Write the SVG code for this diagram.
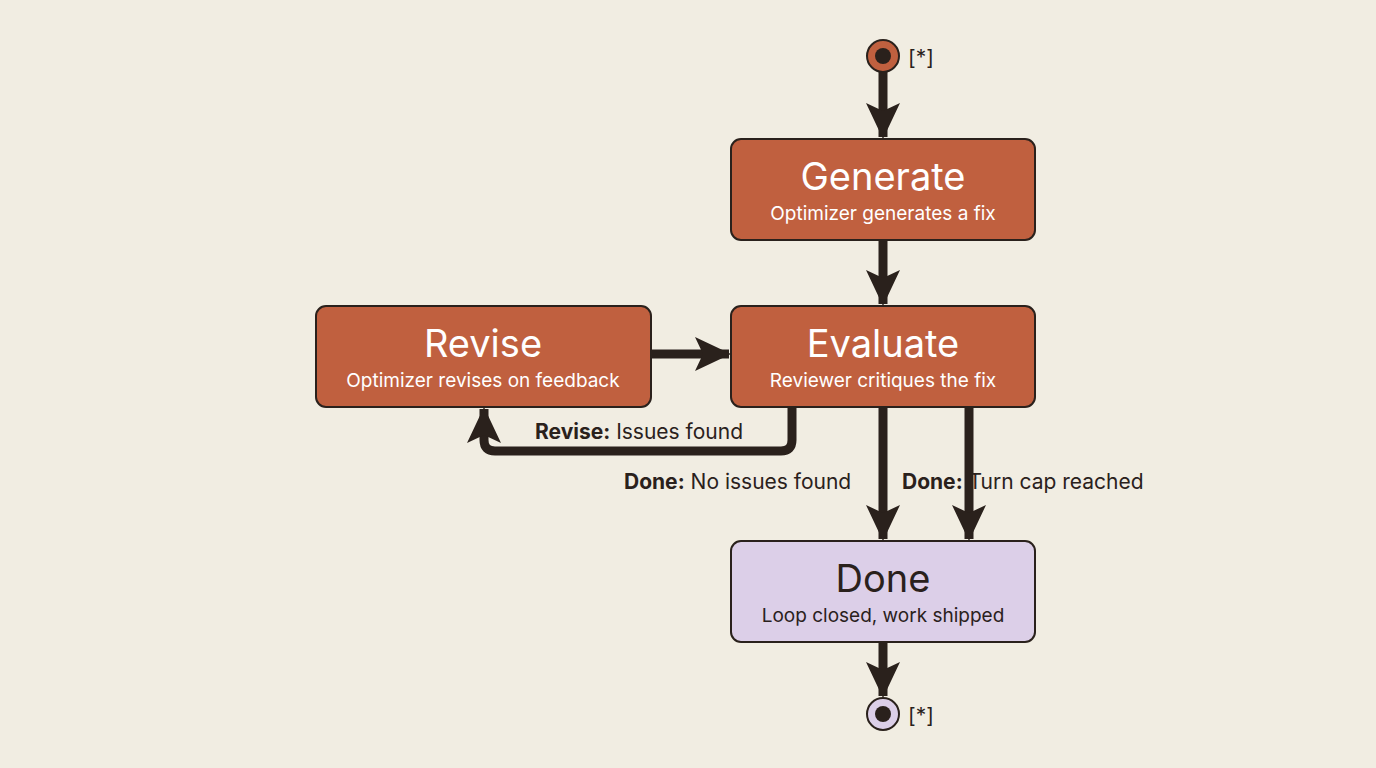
<svg xmlns="http://www.w3.org/2000/svg" width="1376" height="768" viewBox="0 0 1376 768">
<style>
.box{fill:#c0603f;stroke:#2a211c;stroke-width:2}
.done{fill:#dccfe8;stroke:#2a211c;stroke-width:2}
.t{font-family:Inter,"Liberation Sans",sans-serif;text-anchor:middle;fill:#fff}
.title{font-size:38px}
.sub{font-size:19px}
.dk{fill:#2a211c}
.lbl{font-family:Inter,"Liberation Sans",sans-serif;font-size:21px;fill:#2a211c}
.c{fill:none;stroke:#2a211c;stroke-width:9}
</style>
<defs>
<marker id="ah" markerUnits="userSpaceOnUse" markerWidth="36" markerHeight="34" refX="34" refY="17" orient="auto"><path d="M0,0 L36,17 L0,34 L8,17 Z" fill="#2a211c"/></marker>
</defs>
<rect width="1376" height="768" fill="#f1ede2"/>
<g id="start"><circle cx="883" cy="56" r="16" fill="#c0603f" stroke="#2a211c" stroke-width="2"/><circle cx="883" cy="56" r="8" fill="#2a211c"/><text x="908" y="65" class="lbl" font-size="24">[*]</text></g>
<g id="generate"><rect class="box" x="731" y="139" width="304" height="101" rx="10"/><text class="t title" x="883" y="190">Generate</text><text class="t sub" x="883" y="220">Optimizer generates a fix</text></g>
<g id="evaluate"><rect class="box" x="731" y="306" width="304" height="101" rx="10"/><text class="t title" x="883" y="357">Evaluate</text><text class="t sub" x="883" y="387">Reviewer critiques the fix</text></g>
<g id="revise"><rect class="box" x="316" y="306" width="335" height="101" rx="10"/><text class="t title" x="483" y="357">Revise</text><text class="t sub" x="483" y="387">Optimizer revises on feedback</text></g>
<g id="done"><rect class="done" x="731" y="541" width="304" height="101" rx="10"/><text class="t title dk" x="883" y="592">Done</text><text class="t sub dk" x="883" y="622">Loop closed, work shipped</text></g>
<g id="end"><circle cx="883" cy="714" r="16" fill="#dccfe8" stroke="#2a211c" stroke-width="2"/><circle cx="883" cy="714" r="8" fill="#2a211c"/><text x="908" y="723" class="lbl" font-size="24">[*]</text></g>
<g id="connectors">
<path class="c" d="M883,72 V137" marker-end="url(#ah)"/>
<path class="c" d="M883,240 V304" marker-end="url(#ah)"/>
<path class="c" d="M651,354 H729" marker-end="url(#ah)"/>
<path class="c" d="M792,407 V440 Q792,451 781,451 H495 Q484,451 484,440 V409" marker-end="url(#ah)"/>
<path class="c" d="M883,407 V539" marker-end="url(#ah)"/>
<path class="c" d="M969,407 V539" marker-end="url(#ah)"/>
<path class="c" d="M883,642 V696" marker-end="url(#ah)"/>
</g>
<text class="lbl" x="535" y="439"><tspan font-weight="bold">Revise:</tspan> Issues found</text>
<text class="lbl" x="624" y="489"><tspan font-weight="bold">Done:</tspan> No issues found</text>
<text class="lbl" x="902" y="489"><tspan font-weight="bold">Done:</tspan> Turn cap reached</text>
</svg>
